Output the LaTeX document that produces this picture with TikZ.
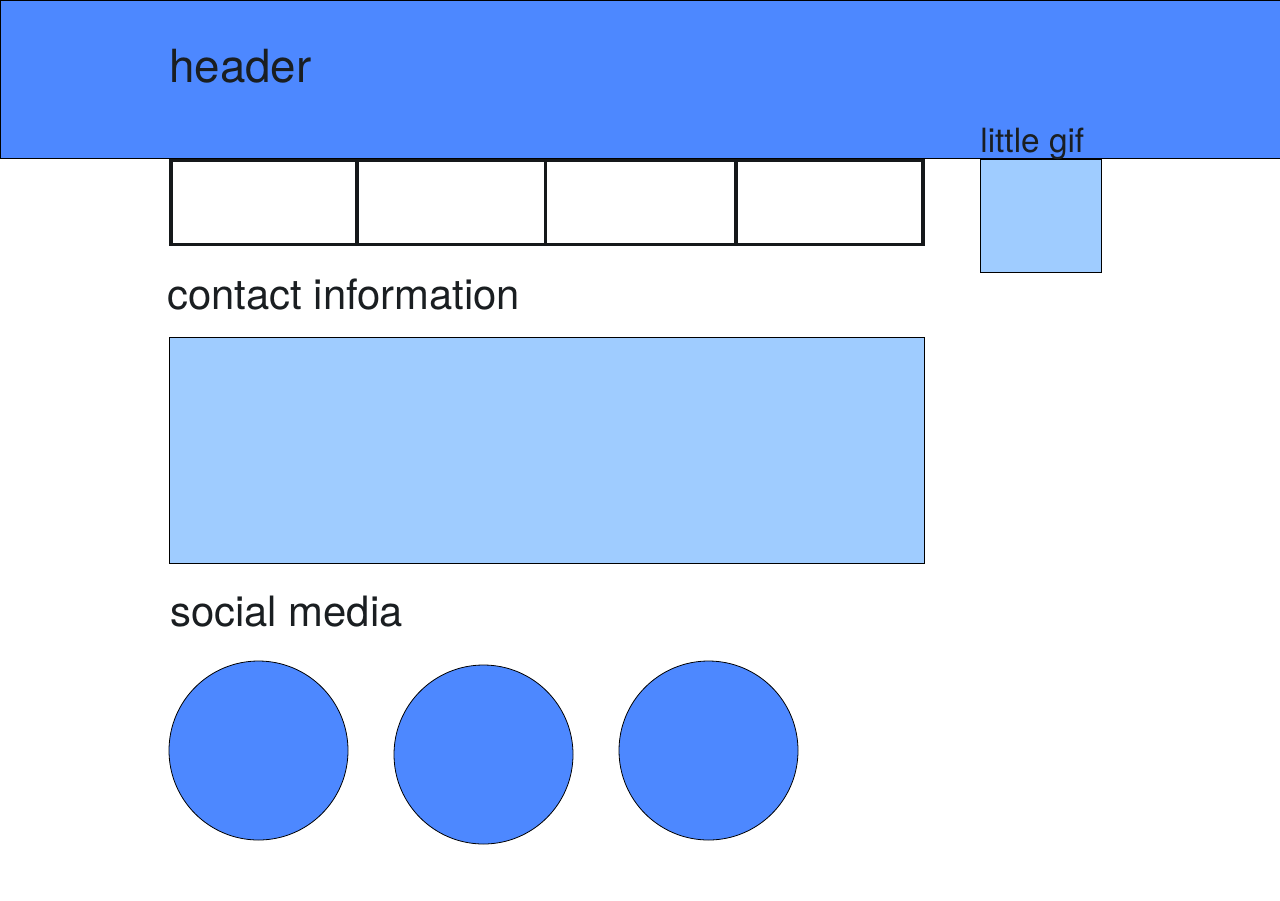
\documentclass[tikz,border=0pt]{standalone}
\usepackage{fontspec}
\setmainfont{TeX Gyre Heros}
\usetikzlibrary{positioning}
\definecolor{headblue}{RGB}{77,136,255}
\definecolor{paleblue}{RGB}{159,204,255}
\definecolor{inkgray}{RGB}{26,30,33}
\tikzset{
  label text/.style={anchor=base west,inner sep=0pt,text=inkgray,font=\fontsize{23.8pt}{26pt}\selectfont},
  thin box/.style={draw=black,line width=0.45pt},
  nav box/.style={draw=inkgray!80!black,line width=2pt}
}
\begin{document}
\begin{tikzpicture}[x=0.02cm,y=-0.02cm]
\useasboundingbox (0,0) rectangle (1280,900);
% header band
\fill[white] (0,0) rectangle (1280,900);
\draw[thin box,fill=headblue] (0,0) rectangle (1280,158);
\node[label text,font=\fontsize{26pt}{28pt}\selectfont] (header) at (169,82) {header};
% navigation row
\foreach \xa/\xb in {171/357,357/545.5,545.5/736,736/923} {\draw[nav box,fill=white] (\xa,160.5) rectangle (\xb,244.5);}
% little gif
\draw[thin box,fill=paleblue] (980,159) rectangle (1101,272);
\node[label text,font=\fontsize{19pt}{21pt}\selectfont] (gif) at (980,152) {little gif};
% contact information
\node[label text] (contact) at (167,309) {contact information};
\draw[thin box,fill=paleblue] (169,337) rectangle (924,563);
% social media
\node[label text] (social) at (170,626) {social media};
\foreach \cx/\cy in {258.5/750.5,483.5/754.5,708.5/750.5} {\draw[thin box,fill=headblue] (\cx,\cy) circle[radius=89.5];}
\end{tikzpicture}
\end{document}
